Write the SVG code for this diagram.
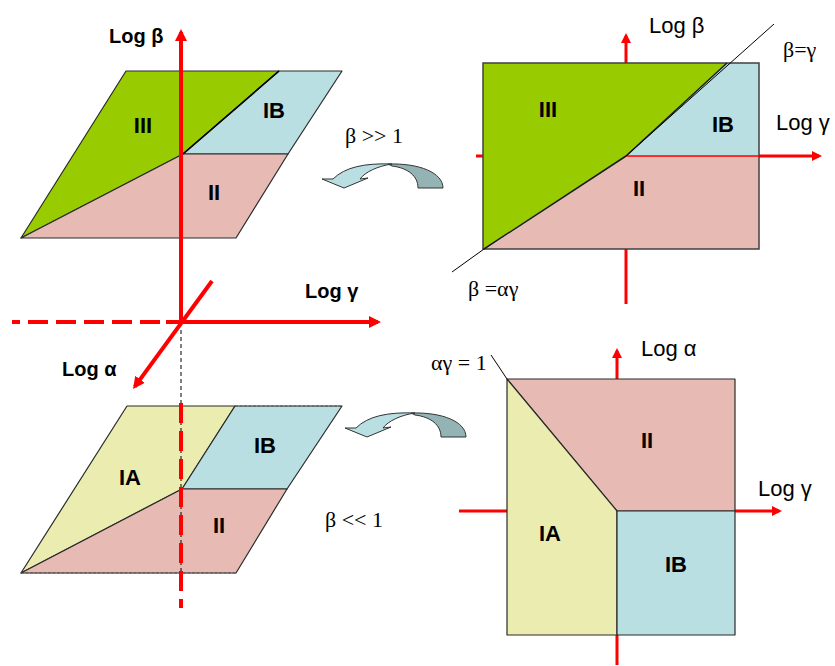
<svg xmlns="http://www.w3.org/2000/svg" width="835" height="666" viewBox="0 0 835 666">
<style>
.ax{stroke:#ff0000;fill:none}
.ax4{stroke-width:4}
.ax3{stroke-width:3}
.rg{stroke:#2a2a2a;stroke-width:1.2;stroke-linejoin:round}
.green{fill:#99cc00}
.blue{fill:#b9dfe3}
.pink{fill:#e7bab4}
.yellow{fill:#ebedb0}
.lbl{font-family:"Liberation Sans",Arial,sans-serif;font-weight:bold;font-size:22px;fill:#000;text-anchor:middle}
.axb{font-family:"Liberation Sans",Arial,sans-serif;font-weight:bold;font-size:20px;fill:#000}
.axr{font-family:"Liberation Sans",Arial,sans-serif;font-size:22px;fill:#000}
.ser{font-family:"Liberation Serif","Times New Roman",serif;font-size:22px;fill:#000}
.thin{stroke:#000;stroke-width:1;fill:none}
</style>
<defs>
<marker id="ahL" viewBox="0 0 12 12" refX="9" refY="6" markerWidth="12" markerHeight="12" markerUnits="userSpaceOnUse" orient="auto"><path d="M0,0 L12,6 L0,12 Z" fill="#ff0000"/></marker>
<marker id="ahS" viewBox="0 0 10 10" refX="7" refY="5" markerWidth="10" markerHeight="10" markerUnits="userSpaceOnUse" orient="auto"><path d="M0,0 L10,5 L0,10 Z" fill="#ff0000"/></marker>
<g id="curvedArrow">
<path d="M388,164 C420,163 443,173 443,188 L418,188 C418,176 408,168 392,166 Z" fill="#94b3b5" stroke="#333" stroke-width="1"/>
<path d="M333,179 C345,167 365,163 392,164 C378,166 365,172 360,179 L368,178 L344,188 L322,179 Z" fill="#b9dfe3" stroke="#333" stroke-width="1"/>
</g>
</defs>

<!-- Top-left 3D plane (beta >> 1) -->
<g id="plane-top">
<polygon class="green rg" points="126,71 279,71 183,154 21,238"/>
<polygon class="blue rg" points="279,71 342,71 288,154 183,154"/>
<polygon class="pink rg" points="183,154 288,154 236,238 21,238"/>
<line x1="279" y1="71" x2="183" y2="154" stroke="#000" stroke-width="1.5"/>
<text class="lbl" x="143" y="133">III</text>
<text class="lbl" x="274" y="118">IB</text>
<text class="lbl" x="214" y="200">II</text>
</g>

<!-- Bottom-left 3D plane (beta << 1) -->
<g id="plane-bottom">
<polygon class="yellow rg" points="127,406 235,406 182,489 21,573"/>
<polygon class="blue rg" points="235,406 342,406 287,489 182,489"/>
<polygon class="pink rg" points="182,489 287,489 236,573 21,573"/>
<line x1="235" y1="406" x2="342" y2="406" stroke="#555" stroke-width="1.2" stroke-dasharray="3 1.5"/>
<line x1="21" y1="573" x2="236" y2="573" stroke="#555" stroke-width="1.2" stroke-dasharray="3 1.5"/>
<text class="lbl" x="130" y="485">IA</text>
<text class="lbl" x="265" y="453">IB</text>
<text class="lbl" x="219" y="533">II</text>
</g>

<!-- 3D axes -->
<g id="axes3d">
<line x1="181" y1="330" x2="181" y2="572" stroke="#000" stroke-width="1" stroke-dasharray="4 3"/>
<line class="ax ax4" x1="181" y1="403" x2="181" y2="608" stroke-dasharray="20 8"/>
<line class="ax ax4" x1="181" y1="324" x2="181" y2="32" marker-end="url(#ahL)"/>
<line class="ax ax4" x1="160" y1="322" x2="12" y2="322" stroke-dasharray="20 8"/>
<line class="ax ax4" x1="166" y1="322" x2="378" y2="322" marker-end="url(#ahL)"/>
<line class="ax ax4" x1="212" y1="281" x2="134.8" y2="386.6" marker-end="url(#ahL)"/>
<text class="axb" x="109" y="43">Log β</text>
<text class="axb" x="305" y="298">Log γ</text>
<text class="axb" x="62" y="376">Log α</text>
</g>

<!-- Top-right 2D section -->
<g id="section-top">
<line class="ax ax3" x1="626" y1="63" x2="626" y2="36" marker-end="url(#ahS)"/>
<line class="ax ax3" x1="626" y1="249" x2="626" y2="304"/>
<line class="ax ax3" x1="476" y1="156" x2="483" y2="156"/>
<line class="ax ax3" x1="759" y1="156" x2="819" y2="156" marker-end="url(#ahS)"/>
<polygon class="pink" points="626,156 759,156 759,249 486,249"/>
<polygon class="blue" points="727,63 759,63 759,156 626,156"/>
<polygon class="green" points="483,63 727,63 626,156 483,249"/>
<rect x="483" y="63" width="276" height="186" fill="none" stroke="#404040" stroke-width="1.5"/>
<line x1="626" y1="156" x2="759" y2="156" stroke="#ff0000" stroke-width="1.5"/>
<line x1="727" y1="63" x2="626" y2="156" stroke="#1a1a1a" stroke-width="1.5"/>
<line x1="626" y1="156" x2="484" y2="249" stroke="#1a1a1a" stroke-width="1.5"/>
<line class="thin" x1="774" y1="24" x2="626" y2="156"/>
<line class="thin" x1="484" y1="249" x2="452" y2="272"/>
<text class="lbl" x="548" y="117">III</text>
<text class="lbl" x="723" y="132">IB</text>
<text class="lbl" x="639" y="196">II</text>
<text class="axr" x="649" y="33">Log β</text>
<text class="axr" x="776" y="130">Log γ</text>
<text class="ser" x="783" y="57">β=γ</text>
<text class="ser" x="468" y="296">β =αγ</text>
</g>

<!-- Bottom-right 2D section -->
<g id="section-bottom">
<line class="ax ax3" x1="617" y1="379" x2="617" y2="351" marker-end="url(#ahS)"/>
<line class="ax ax3" x1="617" y1="635" x2="617" y2="665"/>
<line class="ax ax3" x1="459" y1="511" x2="507" y2="511"/>
<line class="ax ax3" x1="735" y1="511" x2="779" y2="511" marker-end="url(#ahS)"/>
<polygon class="pink rg" points="507,379 735,379 735,511 617,511"/>
<polygon class="yellow rg" points="507,379 617,511 617,635 507,635"/>
<polygon class="blue rg" points="617,511 735,511 735,635 617,635"/>
<line class="thin" x1="491" y1="355" x2="507" y2="379"/>
<text class="lbl" x="647" y="448">II</text>
<text class="lbl" x="550" y="541">IA</text>
<text class="lbl" x="676" y="572">IB</text>
<text class="axr" x="641" y="356">Log α</text>
<text class="axr" x="758" y="496">Log γ</text>
<text class="ser" x="431" y="370">αγ = 1</text>
</g>

<!-- Transition arrows and conditions -->
<g id="connectors">
<use href="#curvedArrow"/>
<use href="#curvedArrow" transform="translate(23,249)"/>
<text class="ser" x="345" y="143">β &gt;&gt; 1</text>
<text class="ser" x="325" y="527">β &lt;&lt; 1</text>
</g>
</svg>
